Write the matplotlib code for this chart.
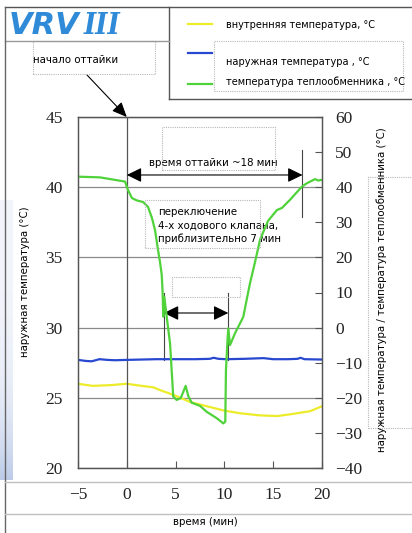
import numpy as np
import matplotlib.pyplot as plt
from matplotlib.lines import Line2D
from matplotlib.patches import Rectangle

W, H = 412, 533

SANS = dict(family='DejaVu Sans', fontstretch='condensed', fontsize=8.2)
SERIF = ['Liberation Serif', 'DejaVu Serif']

# время, мин / температура теплообменника, °C (правая ось)
coil_t = [-5.0, -2.75, -0.18, 0.12, 0.53, 1.05, 1.66, 2.17, 2.58, 2.89, 3.2, 3.4,
          3.58, 3.66, 3.74, 3.84, 4.09, 4.43, 4.76, 5.11, 5.52, 5.79, 6.03, 6.3,
          6.65, 7.5, 8.19, 8.7, 9.21, 9.89, 10.09, 10.16, 10.3, 10.4, 10.57, 11.09,
          11.6, 11.94, 12.28, 12.62, 13.14, 13.65, 14.16, 14.47, 15.39, 15.9, 16.72,
          17.92, 18.43, 19.28, 19.62, 19.97]
coil_v = [43.0, 42.8, 41.6, 39.2, 36.9, 36.2, 35.8, 34.4, 31.2, 27.8, 22.1, 18.7,
          15.0, 10.7, 3.1, 8.8, 3.1, -4.5, -19.7, -20.6, -20.1, -18.3, -16.6, -19.5,
          -21.4, -22.3, -24.0, -24.9, -25.8, -27.3, -26.8, -12.1, -4.5, -0.2, -5.0, -1.6,
          1.2, 3.1, 7.9, 12.6, 18.7, 25.0, 28.4, 30.4, 33.5, 34.1, 36.4,
          40.1, 41.1, 42.3, 41.9, 42.1]

# наружная температура, °C (правая ось)
outdoor_t = [-5, -4.2, -3.6, -2.8, -2, -1.2, 0, 1.5, 3, 5, 7, 8.5, 8.9, 9.4, 10.2,
             12, 13, 14, 15, 16.5, 17.5, 17.8, 18.2, 20]
outdoor_v = [-9.2, -9.5, -9.6, -9.0, -9.2, -9.3, -9.2, -9.1, -9.0, -9.0, -9.0, -8.9,
             -8.6, -8.9, -9.0, -8.9, -8.8, -8.7, -9.0, -9.0, -8.9, -8.6, -9.0, -9.1]

# внутренняя температура, °C (левая ось)
indoor_t = [-5, -3.5, -1.7, 0, 1.5, 2.7, 3.4, 4.8, 6.5, 8.2, 9.9, 11.6, 13.6, 15.4,
            17.0, 18.8, 20]
indoor_v = [26.0, 25.85, 25.9, 26.0, 25.85, 25.75, 25.55, 25.2, 24.7, 24.4, 24.1,
            23.9, 23.75, 23.7, 23.85, 24.05, 24.4]

x_ticks = [-5, 0, 5, 10, 15, 20]
left_ticks = [20, 25, 30, 35, 40, 45]
right_ticks = [-40, -30, -20, -10, 0, 10, 20, 30, 40, 50, 60]

defrost_start, defrost_end = 0, 18
valve_start, valve_end = 3.8, 10.4

YELLOW = '#ecec2a'
BLUE = '#2848d0'
GREEN = '#4fd23a'


def fx(x):
    return x / W


def fy(y):
    return 1 - y / H


def fig_line(fig, xs, ys, **kw):
    fig.add_artist(Line2D([fx(x) for x in xs], [fy(y) for y in ys],
                          transform=fig.transFigure, **kw))


def fig_box(fig, x0, y0, x1, y1):
    fig.add_artist(Rectangle((fx(x0), fy(y1)), fx(x1) - fx(x0), fy(y0) - fy(y1),
                             transform=fig.transFigure, fill=False,
                             ec='#b8b8b8', lw=0.8, ls=(0, (1, 1))))


fig = plt.figure(figsize=(W / 100, H / 100), dpi=100)

# голубая полоса слева
strip = fig.add_axes([0, fy(480), fx(13), fy(200) - fy(480)])
g = np.linspace(0, 1, 60)[:, None]
rgba = np.zeros((60, 4, 4))
rgba[..., 0] = 0.55
rgba[..., 1] = 0.65
rgba[..., 2] = 0.85
rgba[..., 3] = (0.12 + 0.45 * g ** 4) * np.ones((1, 4))
strip.imshow(rgba, aspect='auto', interpolation='bilinear')
strip.axis('off')

ax = fig.add_axes([fx(78), fy(468), fx(322) - fx(78), fy(117) - fy(468)])
ax2 = ax.twinx()

ax.plot(indoor_t, indoor_v, color=YELLOW, lw=1.6)
ax2.plot(outdoor_t, outdoor_v, color=BLUE, lw=1.6)
ax2.plot(coil_t, coil_v, color=GREEN, lw=1.6)

ax.set_xlim(-5, 20)
ax.set_ylim(20, 45)
ax2.set_ylim(-40, 60)
ax.set_xticks(x_ticks)
ax.set_yticks(left_ticks)
ax2.set_yticks(right_ticks)

ax.yaxis.grid(True, color='#8a8a8a', lw=0.9)
ax.axvline(defrost_start, color='#555555', lw=0.9)

for a in (ax, ax2):
    for s in a.spines.values():
        s.set_color('#555555')
        s.set_linewidth(0.9)

ax.tick_params(axis='y', length=0, pad=11, labelsize=12.5)
ax.tick_params(axis='x', direction='in', length=5, width=0.8, color='#555555',
               pad=14, labelsize=12.5)
ax2.tick_params(axis='y', direction='in', length=5, width=0.8, color='#555555',
                pad=9.5, labelsize=12.5)
for lab in ax.get_xticklabels() + ax.get_yticklabels() + ax2.get_yticklabels():
    lab.set_family(SERIF)
    lab.set_color('#222222')

# время оттайки
arrow = dict(arrowstyle='<|-|>,head_length=0.45,head_width=0.22', color='black',
             lw=0.8, mutation_scale=20, shrinkA=0, shrinkB=0)
ax.annotate('', xy=(defrost_start, 40.87), xytext=(defrost_end, 40.87),
            arrowprops=arrow, annotation_clip=False)
ax.plot([defrost_end, defrost_end], [42.65, 37.88], color='#444444', lw=0.8)
ax.text(8.85, 41.75, 'время оттайки ~18 мин', ha='center', va='center', **SANS)

# переключение клапана
ax.annotate('', xy=(valve_start, 31.04), xytext=(valve_end, 31.04),
            arrowprops=arrow, annotation_clip=False)
for t in (valve_start, valve_end):
    ax.plot([t, t], [32.46, 27.69], color='#444444', lw=0.8)
ax.text(3.2, 37.25, 'переключение\n4-х ходового клапана,\nприблизительно 7 мин',
        ha='left', va='center', linespacing=1.4, **SANS)

# начало оттайки
ax.annotate('', xy=(defrost_start, 45), xycoords='data',
            xytext=(fx(87), fy(75)), textcoords='figure fraction',
            arrowprops=dict(arrowstyle='-|>,head_length=0.5,head_width=0.22',
                            color='black', lw=0.8, mutation_scale=18,
                            shrinkA=0, shrinkB=0),
            annotation_clip=False)
fig.text(fx(33), fy(60), 'начало оттайки', ha='left', va='center', **SANS)

# подписи осей
fig.text(fx(25), fy(282), 'наружная температура (°C)', rotation=90,
         ha='center', va='center', **SANS)
fig.text(fx(382), fy(290), 'наружная температура / температура теплообменника (°C)',
         rotation=90, ha='center', va='center', **SANS)
fig.text(fx(205), fy(522), 'время (мин)', ha='center', va='center', **SANS)

# логотип
fig.text(fx(9), fy(26), 'VRV', fontsize=22, fontweight='bold', style='italic',
         color='#2f8ad8', va='center', ha='left', family='DejaVu Sans')
fig.text(fx(84), fy(26), 'III', fontsize=21, fontweight='bold', style='italic',
         color='#2f8ad8', va='center', ha='left', family='DejaVu Serif',
         fontstretch='condensed')
for ly in (18, 23, 28, 33):
    fig_line(fig, [8, 118], [ly, ly], color='white', lw=0.6, alpha=0.7)

# легенда
legend_rows = [(YELLOW, 24, 25, 'внутренняя температура, °C'),
               (BLUE, 53, 62, 'наружная температура , °C'),
               (GREEN, 84, 82, 'температура теплообменника , °C')]
for color, ly, ty, label in legend_rows:
    fig_line(fig, [188, 212], [ly, ly], color=color, lw=1.6)
    fig.text(fx(226), fy(ty), label, ha='left', va='center',
             family='DejaVu Sans', fontstretch='condensed', fontsize=7.8)

# рамки
fig_line(fig, [5, 412], [7, 7], color='#555555', lw=1)
fig_line(fig, [169, 169], [7, 99], color='#555555', lw=1)
fig_line(fig, [169, 412], [99, 99], color='#555555', lw=1)
fig_line(fig, [5, 169], [41, 41], color='#9a9a9a', lw=1)
fig_line(fig, [5, 5], [7, 533], color='#666666', lw=1)
fig_line(fig, [5, 412], [482, 482], color='#c0c0c0', lw=1)
fig_line(fig, [5, 412], [514, 514], color='#c0c0c0', lw=1)

fig_box(fig, 33, 41, 155, 74)
fig_box(fig, 214, 41, 403, 91)
fig_box(fig, 162, 127, 275, 170)
fig_box(fig, 145, 200, 260, 248)
fig_box(fig, 172, 277, 240, 297)
fig_box(fig, 368, 177, 420, 428)

fig.savefig('out.png', dpi=100)
